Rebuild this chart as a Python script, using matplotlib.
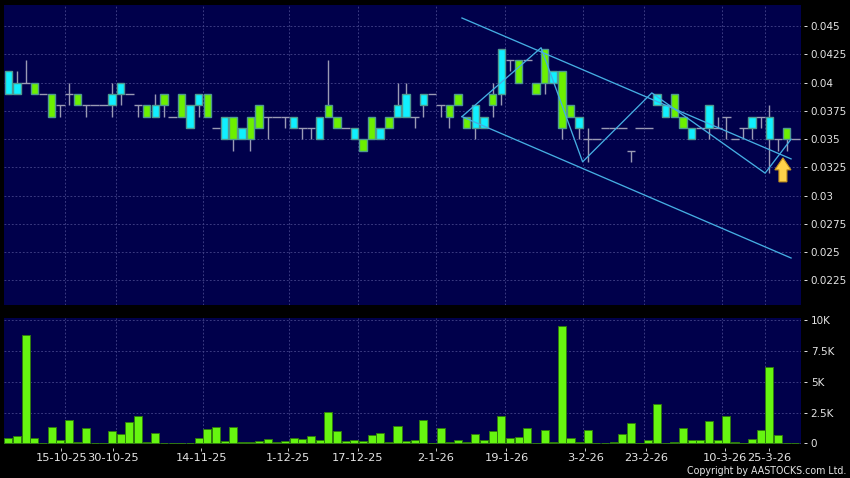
#!/usr/bin/env python3
# -*- coding: utf-8 -*-
"""Candlestick and volume chart on a navy panel, AAStocks style."""

import matplotlib
matplotlib.use("Agg")
import matplotlib.pyplot as plt

# price data, one entry per trading day
opens = [.041, .040, .040, .039, .039, .037, .038, .039, .038, .038, .038, .038, .039,
         .040, .039, .038, .037, .038, .038, .037, .037, .038, .039, .037, .036, .037,
         .035, .036, .035, .036, .037, .037, .037, .037, .036, .036, .037, .037, .036,
         .036, .036, .034, .035, .036, .036, .038, .039, .037, .039, .039, .038, .037,
         .038, .036, .038, .037, .038, .043, .042, .040, .042, .039, .040, .041, .036,
         .037, .037, .035, .035, .036, .036, .036, .034, .036, .036, .039, .038, .037,
         .036, .036, .036, .038, .036, .037, .035, .036, .037, .037, .037, .035, .035,
         .035]
closes = [.039, .039, .040, .040, .039, .039, .038, .039, .039, .038, .038, .038, .038,
          .039, .039, .038, .038, .037, .039, .037, .039, .036, .038, .039, .036, .035,
          .037, .035, .037, .038, .037, .037, .037, .036, .036, .036, .035, .038, .037,
          .036, .035, .035, .037, .035, .037, .037, .037, .037, .038, .039, .038, .038,
          .039, .037, .036, .036, .039, .039, .042, .042, .042, .040, .043, .040, .041,
          .038, .036, .035, .035, .036, .036, .036, .034, .036, .036, .038, .037, .039,
          .037, .035, .036, .036, .036, .037, .035, .036, .036, .037, .035, .035, .036,
          .035]
highs = [.041, .041, .042, .040, .039, .039, .038, .040, .039, .038, .038, .038, .040,
         .040, .039, .038, .038, .039, .039, .037, .039, .038, .039, .039, .036, .037,
         .037, .036, .037, .038, .037, .037, .037, .037, .036, .036, .037, .042, .037,
         .036, .036, .035, .037, .036, .037, .040, .040, .037, .039, .039, .038, .038,
         .039, .037, .038, .037, .040, .043, .042, .042, .042, .040, .043, .041, .041,
         .038, .037, .036, .035, .036, .036, .036, .034, .036, .036, .039, .038, .039,
         .037, .036, .036, .038, .037, .037, .035, .036, .037, .037, .038, .035, .036,
         .035]
lows = [.039, .039, .040, .039, .039, .037, .037, .038, .038, .037, .038, .038, .037,
        .038, .039, .037, .037, .037, .037, .037, .037, .036, .037, .037, .036, .035,
        .034, .035, .034, .036, .035, .037, .036, .036, .035, .035, .035, .037, .036,
        .036, .035, .034, .035, .035, .036, .037, .037, .036, .037, .039, .037, .036,
        .038, .036, .035, .036, .037, .038, .041, .040, .042, .039, .039, .040, .035,
        .037, .035, .033, .035, .036, .036, .036, .033, .036, .036, .038, .037, .037,
        .036, .035, .036, .035, .036, .035, .035, .035, .035, .036, .032, .034, .034,
        .035]

# volume in thousands
volumes = [0.40, 0.57, 8.78, 0.40, 0.02, 1.32, 0.27, 1.86, 0.10, 1.27, 0.02, 0.02, 1.00,
           0.73, 1.73, 2.19, 0.13, 0.81, 0.05, 0.01, 0.01, 0.02, 0.40, 1.16, 1.32, 0.19,
           1.32, 0.08, 0.10, 0.19, 0.32, 0.08, 0.19, 0.46, 0.32, 0.57, 0.27, 2.51, 1.03,
           0.19, 0.24, 0.16, 0.68, 0.81, 0.13, 1.38, 0.22, 0.27, 1.92, 0.01, 1.27, 0.08,
           0.30, 0.08, 0.76, 0.30, 1.00, 2.22, 0.40, 0.49, 1.22, 0.03, 1.11, 0.08, 9.57,
           0.40, 0.08, 1.05, 0.01, 0.01, 0.13, 0.76, 1.65, 0.01, 0.30, 3.19, 0.02, 0.08,
           1.22, 0.27, 0.30, 1.81, 0.24, 2.24, 0.08, 0.00, 0.35, 1.08, 6.24, 0.70, 0.00,
           0.00]

# trend lines drawn on the price panel
channel_x = [52.45, 90.5]
channel_upper = [0.04573, 0.03326]
channel_lower = [0.0370, 0.02449]
zigzag_x = [52.45, 61.6, 66.4, 74.4, 87.5, 90.5]
zigzag_y = [0.0370, 0.0431, 0.0330, 0.0391, 0.0320, 0.0350]

# axis labels
price_ticks = [0.0225, 0.025, 0.0275, 0.03, 0.0325, 0.035, 0.0375, 0.04, 0.0425, 0.045]
price_labels = ['0.0225', '0.025', '0.0275', '0.03', '0.0325', '0.035', '0.0375', '0.04', '0.0425', '0.045']
volume_ticks = [0, 2.5, 5, 7.5, 10]
volume_labels = ['0', '2.5K', '5K', '7.5K', '10K']
date_ticks = [6.13, 12.14, 22.3, 32.3, 40.4, 49.4, 57.6, 66.7, 73.7, 82.9, 88.0]
date_labels = ['15-10-25', '30-10-25', '14-11-25', '1-12-25', '17-12-25', '2-1-26',
               '19-1-26', '3-2-26', '23-2-26', '10-3-26', '25-3-26']
date_grid = [6.5, 12.5, 22.5, 32.5, 40.4, 49.5, 57.4, 66.5, 73.5, 82.5, 87.5]

BG = '#00004b'
GRID = '#44448a'
CYAN = '#10f0ff'
GREEN = '#6cf000'
WICK = '#9a9ab4'
BODY_EDGE = '#4f9a90'
LINE = '#45aee2'
TEXT = '#e4e4e4'
DASH = (0, (2.2, 2.2))

W, H = 850, 478
XLIM = (-0.497, 91.65)


def panel(fig, top, bottom):
    """Add an axes given pixel rows, styled like the original chart"""
    ax = fig.add_axes([4 / W, 1 - bottom / H, 797 / W, (bottom - top) / H])
    ax.set_facecolor(BG)
    ax.set_xlim(*XLIM)
    for name, spine in ax.spines.items():
        spine.set_visible(False)
    ax.spines['right'].set_position(('outward', 2.4))
    ax.spines['bottom'].set_position(('outward', 2.6))
    ax.yaxis.tick_right()
    ax.tick_params(axis='y', colors=TEXT, length=2.2, width=0.7, labelsize=7.5, pad=2.4)
    ax.tick_params(axis='x', colors=TEXT, length=1.8, width=0.6, labelsize=8.2, pad=2.2)
    ax.set_axisbelow(True)
    for x in date_grid:
        ax.axvline(x, color=GRID, linestyle=DASH, linewidth=0.6, zorder=0)
    return ax


fig = plt.figure(figsize=(W / 100, H / 100), dpi=100, facecolor='black')

# price panel
ax1 = panel(fig, 5, 305)
ax1.set_ylim(0.02033, 0.04688)
ax1.set_yticks(price_ticks)
ax1.set_yticklabels(price_labels)
ax1.set_xticks([])
ax1.grid(axis='y', color=GRID, linestyle=DASH, linewidth=0.6)

days = range(len(opens))
ax1.vlines(days, lows, highs, color=WICK, linewidth=1, zorder=2)
for i in days:
    if opens[i] == closes[i]:
        ax1.hlines(opens[i], i - 0.5, i + 0.5, color=WICK, linewidth=1, zorder=2)
    else:
        color = GREEN if closes[i] > opens[i] else CYAN
        ax1.bar(i, abs(closes[i] - opens[i]), bottom=min(opens[i], closes[i]), width=0.86,
                color=color, edgecolor=BODY_EDGE, linewidth=1, zorder=3)

ax1.plot(channel_x, channel_upper, color=LINE, linewidth=0.95, zorder=4)
ax1.plot(channel_x, channel_lower, color=LINE, linewidth=0.95, zorder=4)
ax1.plot(zigzag_x, zigzag_y, color=LINE, linewidth=0.95, zorder=4)

# arrow marker under the last candle
arrow_x = [89.56, 90.49, 90.02, 90.02, 89.10, 89.10, 88.63, 89.56]
arrow_y = [0.03335, 0.03229, 0.03229, 0.03123, 0.03123, 0.03229, 0.03229, 0.03335]
ax1.fill(arrow_x, arrow_y, facecolor='#ffd24a', edgecolor='#c8961e', linewidth=0.8, zorder=5)

# volume panel
ax2 = panel(fig, 318, 444)
ax2.set_ylim(-0.057, 10.19)
ax2.set_yticks(volume_ticks)
ax2.set_yticklabels(volume_labels)
ax2.set_xticks(date_ticks)
ax2.set_xticklabels(date_labels)
ax2.grid(axis='y', color=GRID, linestyle=DASH, linewidth=0.6)
ax2.bar(days, volumes, width=0.93, color='#66f510', edgecolor='#2f7a10', linewidth=0.7, zorder=3)

fig.text(846 / W, 1 - 471 / H, 'Copyright by AASTOCKS.com Ltd.', color=TEXT, fontsize=6.85,
         ha='right', va='center')

plt.savefig('out.png', dpi=100, facecolor='black')
plt.close()
